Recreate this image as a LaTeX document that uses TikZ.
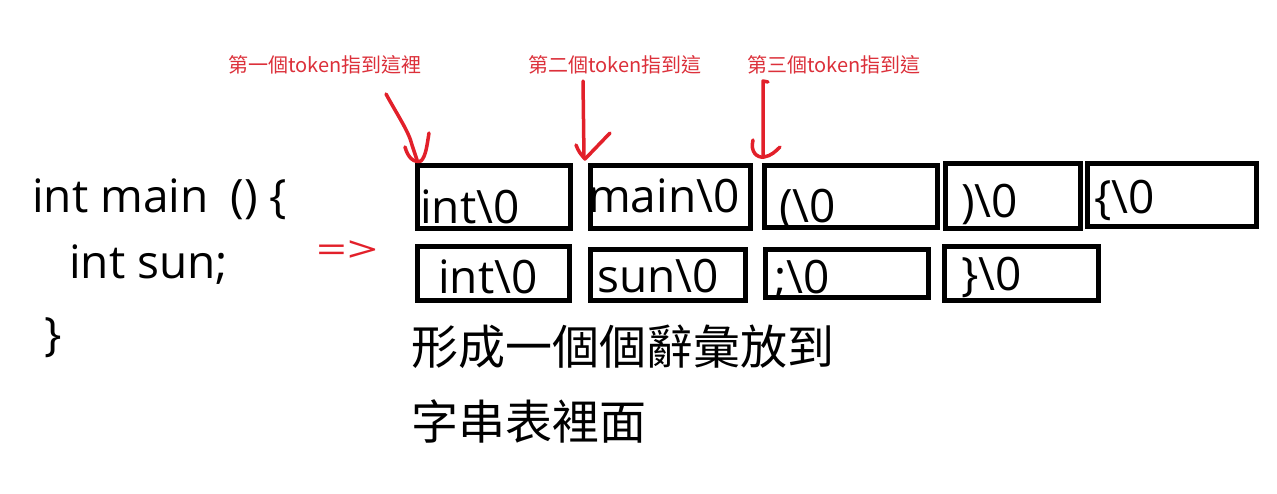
\documentclass[tikz,border=0pt]{standalone}
\usepackage{fontspec}
\setmainfont{Open Sans}
\newfontfamily\cjkfont{Noto Sans CJK TC}
\definecolor{penred}{RGB}{226,32,42}
\definecolor{labred}{RGB}{220,48,58}
\begin{document}
\begin{tikzpicture}[x=1pt,y=-1pt,
  tokbox/.style={draw=black,line width=5pt,inner sep=0pt,outer sep=0pt},
  boxtxt/.style={inner sep=0pt,anchor=base west,font=\fontsize{46}{46}\selectfont},
  codetxt/.style={inner sep=0pt,anchor=base west,font=\fontsize{46}{46}\selectfont},
  cjktxt/.style={inner sep=0pt,anchor=base west,font=\cjkfont\fontsize{47}{47}\selectfont},
  labtxt/.style={inner sep=0pt,anchor=base west,text=labred,font=\cjkfont\fontsize{20}{20}\selectfont},
  pen/.style={draw=penred,line width=3.5pt,line cap=round,line join=round}]
\useasboundingbox[fill=white] (0,0) rectangle (1277,493);

% code
\node[codetxt] (code1) at (32,212) {int main\hspace{10pt} () \{};
\node[codetxt] (code2) at (69,278) {int sun;};
\node[codetxt] (code3) at (44,350) {\}};
\node[inner sep=0pt,anchor=base west,text=penred,font=\fontsize{36}{36}\selectfont] (arrow) at (316,262) {\scalebox{1.5}[1]{=>}};

% row 1 boxes
\node[tokbox,minimum width=153pt,minimum height=63.5pt] (b1) at (494,196.75) {};
\node[tokbox,minimum width=160pt,minimum height=63.5pt] (b2) at (670.5,196.75) {};
\node[tokbox,minimum width=173pt,minimum height=62pt] (b3) at (851,196.5) {};
\node[tokbox,minimum width=135pt,minimum height=65pt] (b4) at (1013,196) {};
\node[tokbox,minimum width=169pt,minimum height=63pt] (b5) at (1172,195) {};
% row 2 boxes
\node[tokbox,minimum width=152pt,minimum height=54pt] (c1) at (493.5,273.5) {};
\node[tokbox,minimum width=155pt,minimum height=51pt] (c2) at (668,275) {};
\node[tokbox,minimum width=163pt,minimum height=48pt] (c3) at (847,273.5) {};
\node[tokbox,minimum width=154pt,minimum height=54pt] (c4) at (1021.5,273.5) {};

% box texts
\node[boxtxt] (t1) at (420,223) {int\textbackslash 0};
\node[boxtxt] (t2) at (588,212) {main\textbackslash 0};
\node[boxtxt] (t3) at (779,222) {(\textbackslash 0};
\node[boxtxt] (t4) at (961,217) {)\textbackslash 0};
\node[boxtxt] (t5) at (1094,213) {\{\textbackslash 0};
\node[boxtxt] (u1) at (438,293) {int\textbackslash 0};
\node[boxtxt] (u2) at (597,292) {sun\textbackslash 0};
\node[boxtxt] (u3) at (774,293) {;\textbackslash 0};
\node[boxtxt] (u4) at (961,290) {\}\textbackslash 0};

% chinese text
\node[cjktxt] (zh1) at (411,364) {形成一個個辭彙放到};
\node[cjktxt] (zh2) at (411,439) {字串表裡面};

% labels
\node[labtxt] (l1) at (228,72) {第一個token指到這裡};
\node[labtxt] (l2) at (528,72) {第二個token指到這};
\node[labtxt] (l3) at (747,72) {第三個token指到這};

% hand drawn arrows
\draw[pen] (386,94) .. controls (398,116) and (409,132) .. (412,145) .. controls (414,152) .. (417,160);
\draw[pen] (405,147) .. controls (408,158) and (414,163) .. (421,161) .. controls (426,156) and (427,145) .. (429,133);
\draw[pen] (583,81) -- (584,158);
\draw[pen] (576,145) .. controls (579,152) .. (585,159) -- (610,133);
\draw[pen] (768,82) -- (763,81) -- (763,155);
\draw[pen] (753,140) .. controls (750,152) and (757,158) .. (764,157) .. controls (771,156) and (776,151) .. (780,147);
\end{tikzpicture}
\end{document}
